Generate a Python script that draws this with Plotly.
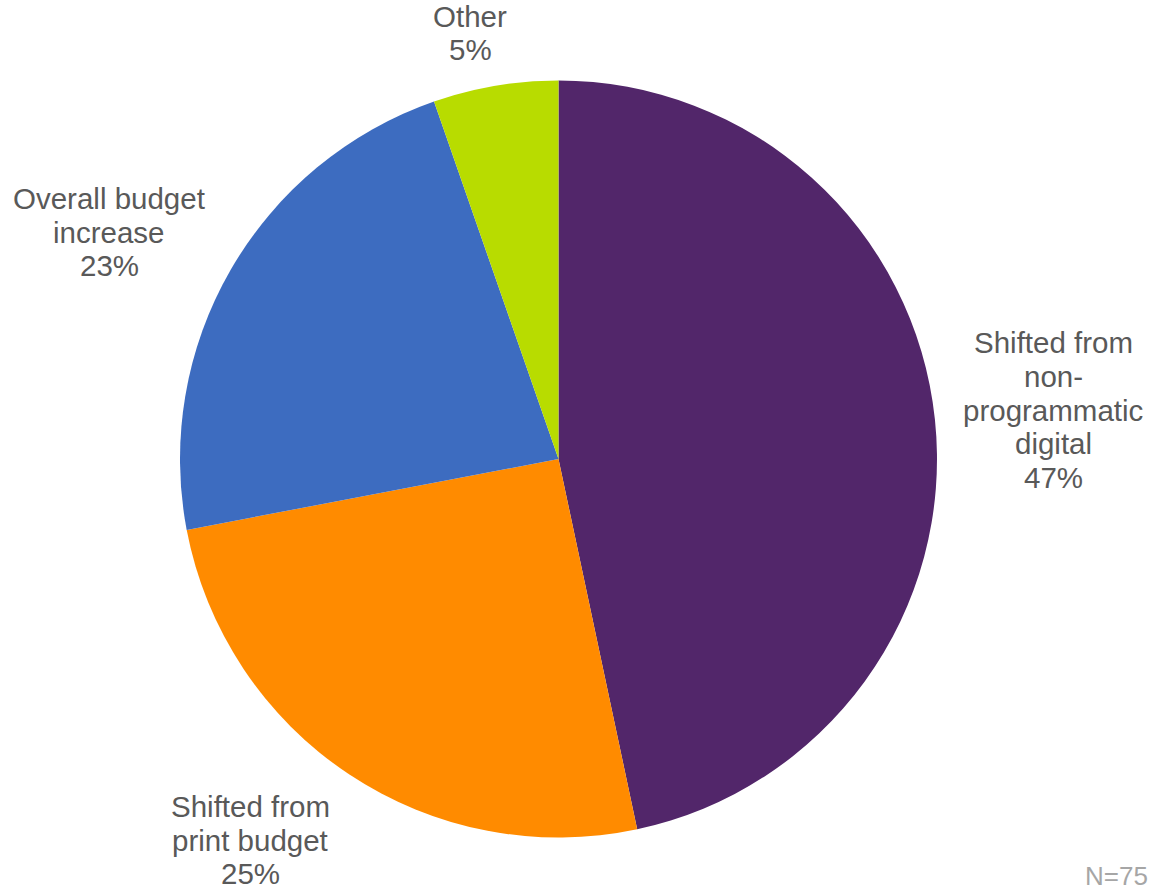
import plotly.graph_objects as go

# Source of the programmatic budget increase (respondent counts, N=75)
categories = [
    "Shifted from<br>non-<br>programmatic<br>digital",
    "Shifted from<br>print budget",
    "Overall budget<br>increase",
    "Other",
]
counts = [35, 19, 17, 4]
colors = ["#52266A", "#FF8B00", "#3D6CC0", "#B8DC00"]
sample_note = "N=75"

total = sum(counts)
pct_labels = [f"{round(c / total * 100)}%" for c in counts]

W, H = 1159, 888
TEXT_COLOR = "#595959"
FONT = "Liberation Sans, Arial, sans-serif"
LINE_STEP = 33.7  # px between label lines

# label block centres (px, from top-left) for each slice
label_centres = [(1053, 410), (250, 840), (109, 232), (470, 33)]

fig = go.Figure(
    go.Pie(
        values=counts,
        labels=categories,
        marker=dict(colors=colors, line=dict(width=0)),
        sort=False,
        direction="clockwise",
        rotation=0,
        textinfo="none",
        hoverinfo="skip",
        showlegend=False,
        domain=dict(x=[180 / W, 937 / W], y=[1 - 837.5 / H, 1 - 80.5 / H]),
    )
)

annotations = []
for cat, pct, (cx, cy) in zip(categories, pct_labels, label_centres):
    lines = cat.split("<br>") + [pct]
    n = len(lines)
    for i, line in enumerate(lines):
        y_px = cy + (i - (n - 1) / 2) * LINE_STEP
        annotations.append(
            dict(
                x=cx / W, y=1 - y_px / H, xref="paper", yref="paper",
                text=line, showarrow=False, xanchor="center", yanchor="middle",
                font=dict(family=FONT, size=29.5, color=TEXT_COLOR),
            )
        )

annotations.append(
    dict(
        x=1150 / W, y=1 - 876 / H, xref="paper", yref="paper",
        text=sample_note, showarrow=False, xanchor="right", yanchor="middle",
        font=dict(family=FONT, size=26, color="#A6A6A6"),
    )
)

fig.update_layout(
    width=W, height=H,
    margin=dict(l=0, r=0, t=0, b=0),
    paper_bgcolor="white", plot_bgcolor="white",
    annotations=annotations,
)

fig.write_html("out.html")
